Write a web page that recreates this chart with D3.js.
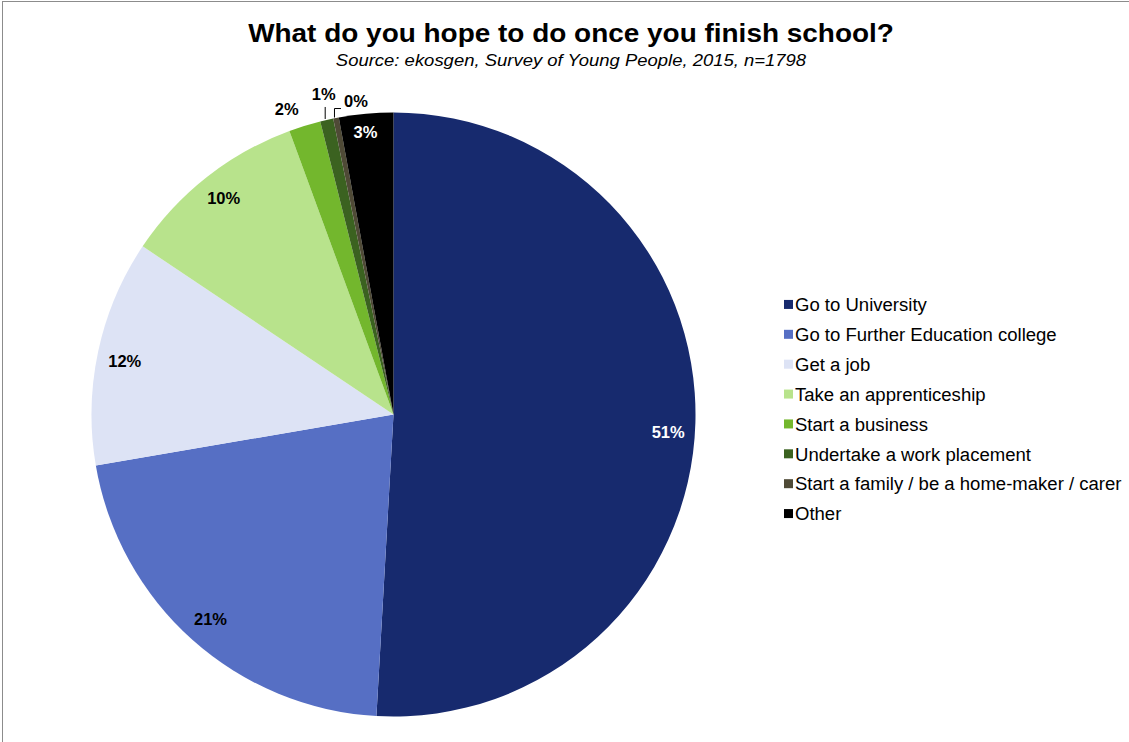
<!DOCTYPE html>
<html>
<head>
  <meta charset="utf-8">
  <title>Once you finish school</title>
  <script src="https://d3js.org/d3.v7.min.js"></script>
  <style>
    body {
      margin: 0;
      padding: 0;
      background: #fff;
      font-family: "Liberation Sans", Arial, sans-serif;
    }
    .title { font-size: 26px; font-weight: bold; }
    .subtitle { font-size: 16.5px; font-style: italic; }
    .slice-label { font-size: 16.5px; font-weight: bold; }
    .legend-label { font-size: 18px; }
  </style>
</head>
<body>
  <div id="chart"></div>
  <script>
    // Data (shares, %)
    var categories = ["Go to University", "Go to Further Education college", "Get a job",
      "Take an apprenticeship", "Start a business", "Undertake a work placement",
      "Start a family / be a home-maker / carer", "Other"];
    var values = [50.9, 21.4, 12.1, 10.0, 1.7, 0.7, 0.3, 2.9];
    var labels = ["51%", "21%", "12%", "10%", "2%", "1%", "0%", "3%"];
    var colors = ["#172a6e", "#566fc4", "#dde3f5", "#b8e38c", "#73b72d", "#3b6220", "#4f4a36", "#000000"];

    var width = 1129, height = 742;
    var cx = 393.5, cy = 414.5, radius = 302;

    var svg = d3.select("#chart").append("svg")
      .attr("width", width)
      .attr("height", height);

    // chart frame
    svg.append("rect")
      .attr("x", 2.5).attr("y", 1.5)
      .attr("width", width + 10).attr("height", height + 10)
      .attr("fill", "none")
      .attr("stroke", "#8c8c8c")
      .attr("stroke-width", 1);

    // the original text is a little wider than the local font, so stretch horizontally
    function stretchText(sel, x, y, sx) {
      sel.attr("transform", "translate(" + x + "," + y + ") scale(" + sx + ",1)");
    }

    svg.append("text")
      .attr("class", "title")
      .attr("text-anchor", "middle")
      .call(stretchText, 571, 42, 1.075)
      .text("What do you hope to do once you finish school?");

    svg.append("text")
      .attr("class", "subtitle")
      .attr("text-anchor", "middle")
      .call(stretchText, 571, 66, 1.12)
      .text("Source: ekosgen, Survey of Young People, 2015, n=1798");

    var pie = d3.pie().sort(null).value(function(d) { return d; });
    var arcs = pie(values);

    var arc = d3.arc().innerRadius(0).outerRadius(radius);
    var labelArc = d3.arc().innerRadius(radius * 0.91).outerRadius(radius * 0.91);
    var edgeArc = d3.arc().innerRadius(radius).outerRadius(radius);

    var g = svg.append("g")
      .attr("transform", "translate(" + cx + "," + cy + ")");

    g.selectAll("path.slice")
      .data(arcs)
      .enter().append("path")
        .attr("class", "slice")
        .attr("d", arc)
        .attr("fill", function(d, i) { return colors[i]; });

    // small slices get labels outside the pie
    var outside = {
      4: { dx: -18, dy: -17, leader: null },
      5: { dx: -3, dy: -26, leader: "v" },
      6: { dx: 20, dy: -17, leader: "elbow" }
    };
    // Excel's best-fit nudges for the inside labels
    var nudge = { 0: [0, 10], 2: [0, 4], 7: [-3, -9] };
    var lightText = { 0: true, 7: true };

    arcs.forEach(function(d, i) {
      var p, o = outside[i];
      if (o) {
        var e = edgeArc.centroid(d);
        p = [e[0] + o.dx, e[1] + o.dy];
        if (o.leader === "v") {
          g.append("path")
            .attr("d", "M" + (e[0] - 1.5) + "," + (e[1] - 1) + "V" + (p[1] + 13))
            .attr("stroke", "#000").attr("fill", "none").attr("stroke-width", 1);
        } else if (o.leader === "elbow") {
          g.append("path")
            .attr("d", "M" + (e[0] - 1.5) + "," + (e[1] - 0.5) + "V" + (p[1] + 7.5) + "H" + (p[0] - 15))
            .attr("stroke", "#000").attr("fill", "none").attr("stroke-width", 1);
        }
      } else {
        p = labelArc.centroid(d);
        var n = nudge[i] || [0, 0];
        p = [p[0] + n[0], p[1] + n[1]];
      }
      g.append("text")
        .attr("class", "slice-label")
        .attr("x", p[0]).attr("y", p[1])
        .attr("text-anchor", "middle")
        .attr("dy", "0.35em")
        .attr("fill", lightText[i] ? "#fff" : "#000")
        .text(labels[i]);
    });

    // legend
    var legendY = d3.scaleBand()
      .domain(categories)
      .range([290, 529]);

    var legend = svg.append("g").attr("class", "legend");
    var items = legend.selectAll("g")
      .data(categories)
      .enter().append("g")
        .attr("transform", function(d) {
          return "translate(784," + (legendY(d) + legendY.bandwidth() / 2) + ")";
        });

    items.append("rect")
      .attr("x", 0).attr("y", -5)
      .attr("width", 9).attr("height", 9)
      .attr("fill", function(d, i) { return colors[i]; });

    items.append("text")
      .attr("class", "legend-label")
      .attr("dy", "0.35em")
      .call(stretchText, 11, 0, 1.03)
      .text(function(d) { return d; });
  </script>
</body>
</html>
